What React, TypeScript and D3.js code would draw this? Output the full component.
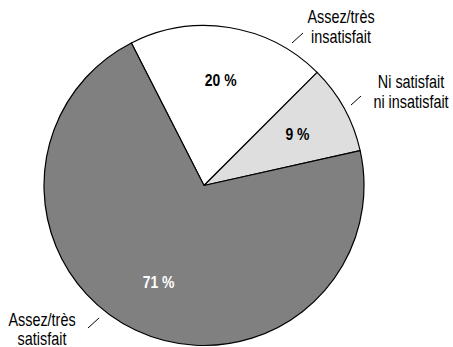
import React from "react";
import * as d3 from "d3";

// Satisfaction shares, in drawing order (clockwise from the start angle)
const categories = ["Assez/très insatisfait", "Ni satisfait ni insatisfait", "Assez/très satisfait"];
const values = [20, 9, 71];
const valueLabels = ["20 %", "9 %", "71 %"];
const fills = ["#ffffff", "#dedede", "#808080"];
const labelColors = ["#000000", "#000000", "#ffffff"];

// Outer category labels: text lines, anchor, line gap and short leader strokes
const outerLabels = [
  { lines: ["Assez/très", "insatisfait"], x: 341, y: 23, gap: 20, tick: [[292, 43], [303, 33]] },
  { lines: ["Ni satisfait", "ni insatisfait"], x: 411, y: 88, gap: 20, tick: [[351, 105], [361, 96]] },
  { lines: ["Assez/très", "satisfait"], x: 42, y: 326, gap: 19, tick: [[88, 328], [99, 318]] },
];

const W = 453;
const H = 347;
const cx = 204;
const cy = 185.5;
const R = 160;
const FONT = "'Liberation Sans', Arial, sans-serif";

function NarrowText(props: {
  x: number;
  y: number;
  size: number;
  squeeze: number;
  bold?: boolean;
  fill: string;
  central?: boolean;
  children: string;
}) {
  return (
    <text
      transform={`translate(${props.x},${props.y}) scale(${props.squeeze},1)`}
      textAnchor="middle"
      dominantBaseline={props.central ? "central" : "auto"}
      fontSize={props.size}
      fontWeight={props.bold ? "bold" : "normal"}
      fill={props.fill}
    >
      {props.children}
    </text>
  );
}

export default function App() {
  const startAngle = (-27 * Math.PI) / 180;
  const pie = d3
    .pie<number>()
    .sort(null)
    .startAngle(startAngle)
    .endAngle(startAngle + 2 * Math.PI)
    .value((d) => d);
  const arcs = pie(values);
  const arc = d3.arc<d3.PieArcDatum<number>>().innerRadius(0).outerRadius(R);
  const labelArc = d3.arc<d3.PieArcDatum<number>>().innerRadius(R * (2 / 3)).outerRadius(R * (2 / 3));

  return (
    <svg
      width={W}
      height={H}
      style={{ position: "absolute", left: 0, top: 0, background: "#fff" }}
      fontFamily={FONT}
    >
      <g transform={`translate(${cx},${cy})`}>
        {arcs.map((a, i) => (
          <path key={categories[i]} d={arc(a) || ""} fill={fills[i]} stroke="#000" strokeWidth={1.2} strokeLinejoin="round" />
        ))}
        {arcs.map((a, i) => {
          const [x, y] = labelArc.centroid(a);
          return (
            <NarrowText key={"v" + i} x={x} y={y} size={17} squeeze={0.82} bold central fill={labelColors[i]}>
              {valueLabels[i]}
            </NarrowText>
          );
        })}
      </g>
      {outerLabels.map((l, i) => (
        <g key={"o" + i}>
          <line x1={l.tick[0][0]} y1={l.tick[0][1]} x2={l.tick[1][0]} y2={l.tick[1][1]} stroke="#000" strokeWidth={1} />
          {l.lines.map((t, j) => (
            <NarrowText key={j} x={l.x} y={l.y + j * l.gap} size={18} squeeze={0.8} fill="#000">
              {t}
            </NarrowText>
          ))}
        </g>
      ))}
    </svg>
  );
}
